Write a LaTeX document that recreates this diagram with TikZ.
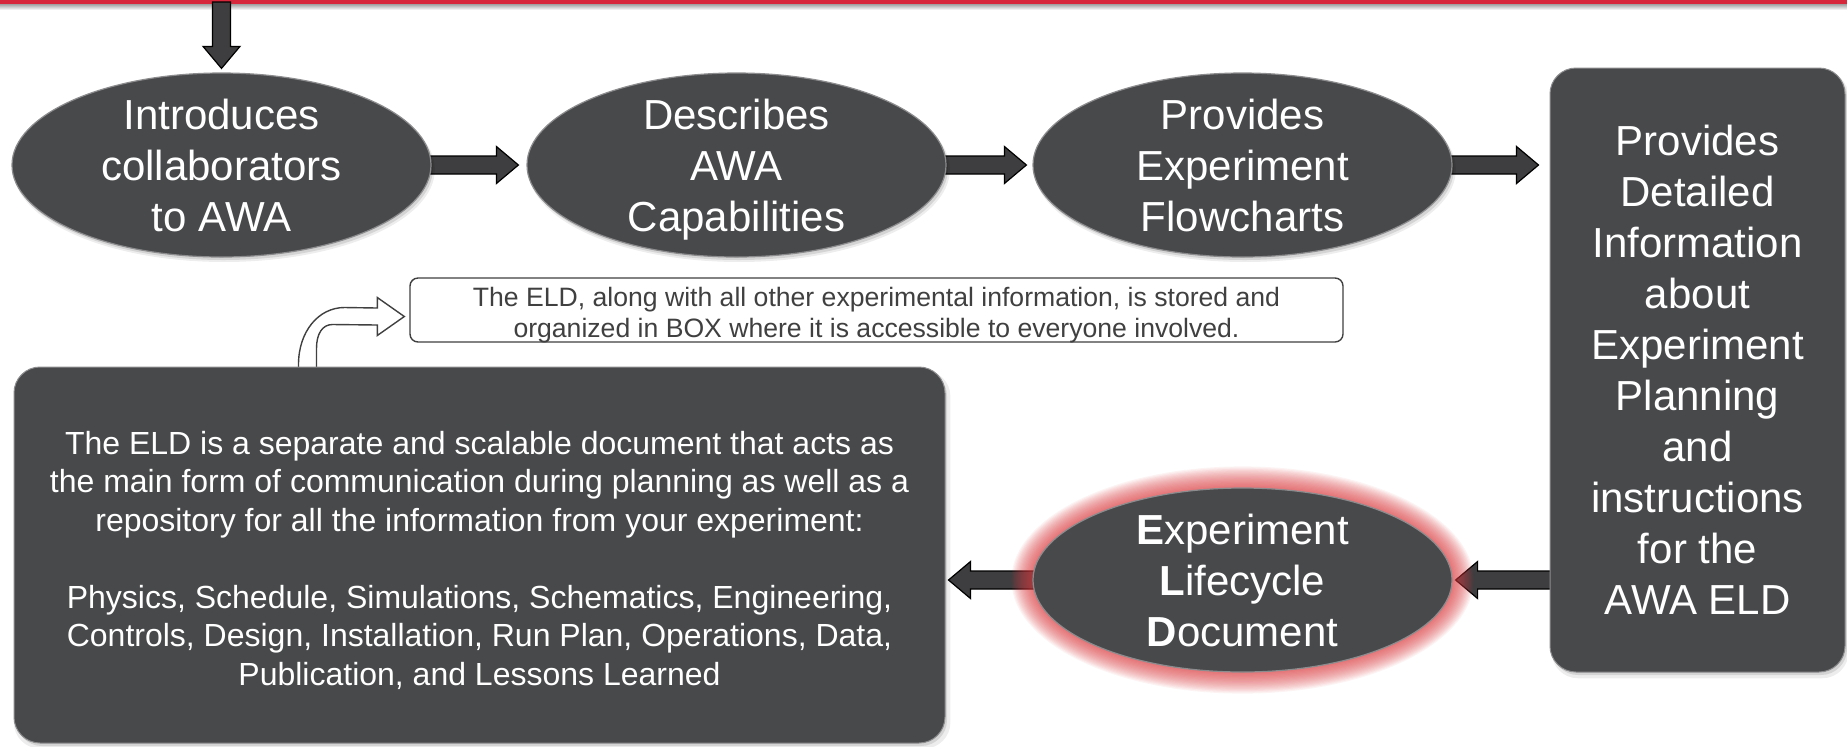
\documentclass[tikz,border=0pt]{standalone}
\usepackage{fontspec}
\setmainfont{Liberation Sans}
\usetikzlibrary{shapes.geometric,calc,shadows}

\definecolor{slate}{RGB}{72,73,75}
\definecolor{rimgrey}{RGB}{140,140,142}
\definecolor{arrowfill}{RGB}{62,62,64}
\definecolor{linegrey}{RGB}{64,64,64}
\definecolor{topred}{RGB}{214,40,58}
\definecolor{glowred}{RGB}{222,58,62}

\pgfdeclarelayer{paper}
\pgfdeclarelayer{arrows}
\pgfsetlayers{paper,arrows,main}

% block arrow dimensions
\newcommand\baShaft{4.5pt}
\newcommand\baWing{9.25pt}
\newcommand\baHead{11pt}

% straight block arrow from #1 to #2 (tip at #2)
\newcommand\blockarrow[2]{%
  \coordinate (ba-a) at (#1);
  \coordinate (ba-b) at (#2);
  \coordinate (ba-h) at ($(ba-b)!\baHead!(ba-a)$);
  \draw[blockarr]
    ($(ba-a)!\baShaft!90:(ba-b)$) -- ($(ba-h)!\baShaft!-90:(ba-a)$)
    -- ($(ba-h)!\baWing!-90:(ba-a)$) -- (ba-b)
    -- ($(ba-h)!\baWing!90:(ba-a)$) -- ($(ba-h)!\baShaft!90:(ba-a)$)
    -- ($(ba-a)!\baShaft!-90:(ba-b)$) -- cycle;}

\tikzset{
  softshadow/.style={
    general shadow={fill=black,opacity=.10,shadow xshift=1pt,shadow yshift=-1.5pt},
    general shadow={fill=black,opacity=.07,shadow xshift=1.3pt,shadow yshift=-2.2pt,shadow scale=1.006}},
  ellip/.style={ellipse,fill=slate,draw=rimgrey,line width=0.6pt,
    minimum width=209.5pt,minimum height=92pt,inner sep=0pt},
  panel/.style={rectangle,rounded corners=13pt,fill=slate,draw=rimgrey,line width=0.5pt,inner sep=0pt},
  bigtxt/.style={text=white,align=center,inner sep=0pt,font=\fontsize{21}{25.5}\selectfont},
  midtxt/.style={text=white,align=center,inner sep=0pt,font=\fontsize{16}{19.25}\selectfont},
  notetxt/.style={text=linegrey,align=center,inner sep=0pt,font=\fontsize{13.3}{15.3}\selectfont},
  notebox/.style={rectangle,rounded corners=4pt,draw=linegrey,line width=0.7pt,fill=white,
    minimum width=466.5pt,minimum height=32pt,inner sep=0pt},
  blockarr/.style={fill=arrowfill,draw=black,line width=0.6pt,line join=miter},
  hollowarr/.style={fill=white,draw=linegrey,line width=0.7pt},
}

\begin{document}
\begin{tikzpicture}[x=0.5pt,y=-0.5pt]
\useasboundingbox (0,0) rectangle (1847,746);
\begin{pgfonlayer}{paper}
  \fill[white] (0,0) rectangle (1847,746);
  \shade[top color=black!40,bottom color=white] (0,3.5) rectangle (1847,10);
  \fill[topred] (0,0) rectangle (1847,3.5);
\end{pgfonlayer}

% upper row of ellipses
\node[ellip,softshadow] (e1) at (221.5,165) {};
\node[bigtxt] (e1t) at ($(e1.center)+(0,5)$) {\strut Introduces\\collaborators\\to AWA\strut};
\node[ellip,softshadow] (e2) at (736.5,165) {};
\node[bigtxt] (e2t) at ($(e2.center)+(0,5)$) {\strut Describes\\AWA\\Capabilities\strut};
\node[ellip,softshadow] (e3) at (1242.5,165) {};
\node[bigtxt] (e3t) at ($(e3.center)+(0,5)$) {\strut Provides\\Experiment\\Flowcharts\strut};

% right-hand panel
\node[panel,softshadow,minimum width=147.5pt,minimum height=302pt] (rbox) at (1697.5,370) {};
\node[bigtxt] (rboxt) at ($(rbox.center)+(0,5)$) {\strut Provides\\Detailed\\Information\\about\\Experiment\\Planning\\and\\instructions\\for the\\AWA ELD\strut};

% highlighted ELD ellipse with red glow
\coordinate (eldc) at (1242.5,580);
\foreach \k in {1,...,18}
  \fill[glowred,opacity=0.058] (eldc) ellipse [x radius={104.75pt+\k*0.6pt}, y radius={46pt+\k*0.6pt}];
\node[ellip] (eld) at (eldc) {};
\node[bigtxt] (eldt) at ($(eld.center)+(0,5)$) {\strut\textbf{E}xperiment\\\textbf{L}ifecycle\\\textbf{D}ocument\strut};

% lower-left panel
\node[panel,softshadow,minimum width=465.5pt,minimum height=188pt] (lbox) at (479.5,555) {};
\node[midtxt] (lboxt) at (479.5,562) {\strut The ELD is a separate and scalable document that acts as\\the main form of communication during planning as well as a\\repository for all the information from your experiment:\\[19.25pt]Physics, Schedule, Simulations, Schematics, Engineering,\\Controls, Design, Installation, Run Plan, Operations, Data,\\Publication, and Lessons Learned\strut};

% note box
\node[notebox] (tbox) at (876.5,310) {};
\node[notetxt] (tboxt) at ($(tbox.center)+(0,6)$) {\strut The ELD, along with all other experimental information, is stored and\\organized in BOX where it is accessible to everyone involved.\strut};

% connectors
\begin{pgfonlayer}{arrows}
  \coordinate (entry) at (221.5,2);
  \blockarrow{entry}{$(e1.north)+(0,-4)$}
  \blockarrow{$(e1.east)+(-6,0)$}{$(e2.west)+(-8,0)$}
  \blockarrow{$(e2.east)+(-6,0)$}{$(e3.west)+(-6,0)$}
  \blockarrow{$(e3.east)+(-6,0)$}{$(rbox.west|-e3.east)+(-11,0)$}
  \blockarrow{$(rbox.west|-eld.east)+(6,0)$}{$(eld.east)+(3,0)$}
  \blockarrow{$(eld.west)+(6,0)$}{$(lbox.east|-eld.west)+(3,0)$}
  % bent hollow arrow from the lower panel up to the note box
  \coordinate (bf) at ($(lbox.north west)+(285,2)$);
  \coordinate (bt) at ($(tbox.west)+(-5,6.5)$);
  \draw[hollowarr] (bf) -- ($(bf)+(0,-4)$)
    .. controls ($(bf)+(0,-37)$) and ($(bf)+(20,-61)$) .. ($(bf)+(46,-61)$)
    -- ($(bt)+(-27,-8.5)$) -- ($(bt)+(-27,-19)$) -- (bt) -- ($(bt)+(-27,19)$)
    -- ($(bt)+(-27,8.5)$) -- ($(bf)+(34,-44)$)
    .. controls ($(bf)+(24,-44)$) and ($(bf)+(18,-35)$) .. ($(bf)+(18,-20)$)
    -- ($(bf)+(18,0)$) -- cycle;
\end{pgfonlayer}
\end{tikzpicture}
\end{document}
